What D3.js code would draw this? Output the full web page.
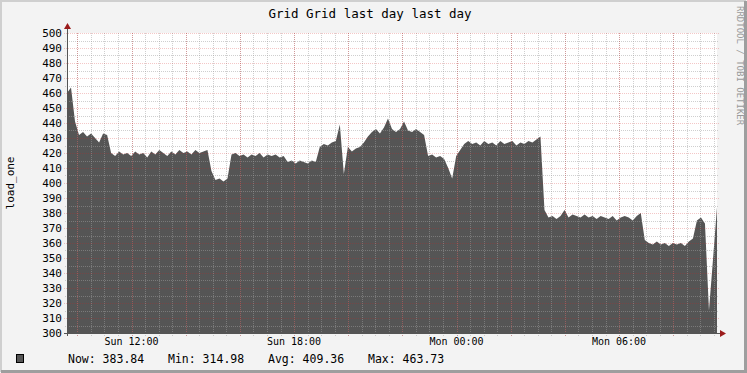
<!DOCTYPE html>
<html>
<head>
<meta charset="utf-8">
<script src="https://cdn.jsdelivr.net/npm/d3@7"></script>
<style>
  body { margin: 0; background: #f3f3f3; }
  text { font-family: "DejaVu Sans Mono", monospace; }
</style>
</head>
<body>
<script>
// Settings
var w = 747;
var h = 373;
var pLeft = 67, pRight = 717, pTop = 33, pBottom = 333;

// load_one samples, one every ~4 px (oldest first)
var loadOne = [
  460, 463.7, 441, 432, 434, 431, 433, 430, 427, 433, 432,
  420, 418, 421, 419, 420, 418, 421, 419, 420, 417, 421, 419, 422, 420, 418,
  421, 419, 422, 420, 421, 419, 422, 420, 421, 422,
  408, 402, 403, 401, 403,
  419, 420, 418, 419, 417, 419, 418, 420, 417, 419, 418, 419, 417, 418,
  414, 415, 413, 415, 414, 413, 415, 414,
  424, 426, 425, 427, 428, 439, 406, 424, 421, 423, 424, 427,
  431, 434, 436, 433, 437, 443, 436, 434, 436, 441, 435, 434, 436, 434, 432,
  418, 419, 417, 418, 416, 410, 403, 418, 422,
  426, 428, 426, 427, 425, 428, 426, 427, 425, 428, 426, 427, 428, 425, 427,
  426, 428, 427, 429, 431,
  382, 377, 378, 376, 378, 382, 377, 379, 378, 377, 379, 377, 378, 376, 378,
  377, 376, 378, 375, 377, 378, 377, 375, 378, 380,
  362, 360, 359, 361, 359, 360, 358, 360, 359, 360, 358, 361,
  363, 375, 377, 373, 315, 349, 383.84
];

var yTicks = [300, 310, 320, 330, 340, 350, 360, 370, 380, 390,
              400, 410, 420, 430, 440, 450, 460, 470, 480, 490, 500];
var xLabels = ["Sun 12:00", "Sun 18:00", "Mon 00:00", "Mon 06:00"];
var legendItems = ["Now: 383.84", "Min: 314.98", "Avg: 409.36", "Max: 463.73"];

var title = "Grid Grid last day last day";
var vLabel = "load_one";
var watermark = "RRDTOOL / TOBI OETIKER";

// last day, ending Mon 09:37
var start = new Date(2024, 0, 7, 9, 37);
var end = new Date(2024, 0, 8, 9, 37);
var step = (end - start) / (loadOne.length - 1);

var dataset = loadOne.map(function(v, i) {
  return { t: new Date(+start + i * step), v: v };
});

//Create scale functions
var xScale = d3.scaleTime().domain([start, end]).range([pLeft, pRight]);
var yScale = d3.scaleLinear().domain([300, 500]).range([pBottom, pTop]);

var svg = d3.select("body")
  .append("svg")
  .attr("width", w)
  .attr("height", h);

// canvas + shaded border
svg.append("rect").attr("width", w).attr("height", h).attr("fill", "#f3f3f3");
svg.append("path").attr("d", "M1,372V1H746").attr("fill", "none")
  .attr("stroke", "#cfcfcf").attr("stroke-width", 2);
svg.append("path").attr("d", "M1,371.5H745.5V1").attr("fill", "none")
  .attr("stroke", "#9e9e9e").attr("stroke-width", 3);

// plot background
svg.append("rect")
  .attr("x", pLeft).attr("y", pTop)
  .attr("width", pRight - pLeft).attr("height", pBottom - pTop)
  .attr("fill", "#ffffff");

//Define area generator
var area = d3.area()
  .x(function(d) { return xScale(d.t); })
  .y0(yScale(300))
  .y1(function(d) { return yScale(d.v); });

svg.append("path")
  .datum(dataset)
  .attr("d", area)
  .attr("fill", "#555555");

// grid, drawn over the area like rrdtool does
var minorX = d3.timeMinute.every(30).range(start, end);
var majorX = d3.timeHour.every(2).range(start, end);
var minorY = d3.range(305, 500, 10);

var grid = svg.append("g").attr("shape-rendering", "crispEdges");

grid.selectAll(".vminor").data(minorX).enter().append("line")
  .attr("x1", function(d) { return Math.round(xScale(d)) + 0.5; })
  .attr("x2", function(d) { return Math.round(xScale(d)) + 0.5; })
  .attr("y1", pTop).attr("y2", pBottom + 3)
  .attr("stroke-dasharray", "1,1")
  .attr("stroke", "rgba(160,160,160,0.5)");

grid.selectAll(".hminor").data(minorY).enter().append("line")
  .attr("x1", pLeft - 2).attr("x2", pRight + 2)
  .attr("y1", function(d) { return Math.round(yScale(d)) + 0.5; })
  .attr("y2", function(d) { return Math.round(yScale(d)) + 0.5; })
  .attr("stroke-dasharray", "1,1")
  .attr("stroke", "rgba(160,160,160,0.5)");

grid.selectAll(".vmajor").data(majorX).enter().append("line")
  .attr("x1", function(d) { return Math.round(xScale(d)) + 0.5; })
  .attr("x2", function(d) { return Math.round(xScale(d)) + 0.5; })
  .attr("y1", pTop).attr("y2", pBottom + 3)
  .attr("stroke-dasharray", "1,1")
  .attr("stroke", "rgba(210,30,30,0.3)");

grid.selectAll(".hmajor").data(yTicks).enter().append("line")
  .attr("x1", pLeft - 3).attr("x2", pRight + 2)
  .attr("y1", function(d) { return Math.round(yScale(d)) + 0.5; })
  .attr("y2", function(d) { return Math.round(yScale(d)) + 0.5; })
  .attr("stroke-dasharray", "1,1")
  .attr("stroke", "rgba(210,30,30,0.25)");

// axes
svg.append("line")
  .attr("x1", pLeft + 0.5).attr("x2", pLeft + 0.5)
  .attr("y1", pBottom + 3).attr("y2", pTop - 5)
  .attr("stroke", "#555").attr("shape-rendering", "crispEdges");
svg.append("line")
  .attr("x1", pLeft - 3).attr("x2", pRight + 4)
  .attr("y1", pBottom + 0.5).attr("y2", pBottom + 0.5)
  .attr("stroke", "#555").attr("shape-rendering", "crispEdges");

// arrows
svg.append("path")
  .attr("d", "M" + (pLeft - 3) + "," + (pTop - 4) + "L" + (pLeft + 4) + "," + (pTop - 4) + "L" + (pLeft + 0.5) + "," + (pTop - 10) + "Z")
  .attr("fill", "#9b1b1b");
svg.append("path")
  .attr("d", "M" + (pRight + 3) + "," + (pBottom - 3) + "L" + (pRight + 3) + "," + (pBottom + 4) + "L" + (pRight + 9) + "," + (pBottom + 0.5) + "Z")
  .attr("fill", "#9b1b1b");

// y tick labels
svg.selectAll(".ylab").data(yTicks).enter().append("text")
  .attr("x", pLeft - 5)
  .attr("y", function(d) { return yScale(d) + 4; })
  .attr("text-anchor", "end")
  .attr("font-size", "11px")
  .attr("fill", "#000")
  .text(function(d) { return d; });

// x labels every 6 hours
var xTicks = d3.timeHour.every(6).range(start, end);
svg.selectAll(".xlab").data(xTicks).enter().append("text")
  .attr("x", function(d) { return xScale(d); })
  .attr("y", pBottom + 12)
  .attr("text-anchor", "middle")
  .attr("font-size", "10px")
  .attr("fill", "#000")
  .text(function(d, i) { return xLabels[i]; });

// title
svg.append("text")
  .attr("x", 370).attr("y", 18)
  .attr("text-anchor", "middle")
  .attr("font-size", "12.5px")
  .attr("fill", "#000")
  .text(title);

// vertical label
svg.append("text")
  .attr("transform", "translate(14," + ((pTop + pBottom) / 2) + ") rotate(-90)")
  .attr("text-anchor", "middle")
  .attr("font-size", "11px")
  .attr("fill", "#000")
  .text(vLabel);

// watermark
svg.append("text")
  .attr("transform", "translate(737,6) rotate(90)")
  .attr("text-anchor", "start")
  .attr("font-size", "9px")
  .attr("fill", "#999")
  .text(watermark);

// legend
svg.append("rect")
  .attr("x", 16.5).attr("y", 354.5).attr("width", 7).attr("height", 8)
  .attr("fill", "#555555").attr("stroke", "#000");

svg.selectAll(".leg").data(legendItems).enter().append("text")
  .attr("x", function(d, i) { return 68 + i * 100; })
  .attr("y", 363)
  .attr("font-size", "11.5px")
  .attr("fill", "#000")
  .text(function(d) { return d; });
</script>
</body>
</html>
